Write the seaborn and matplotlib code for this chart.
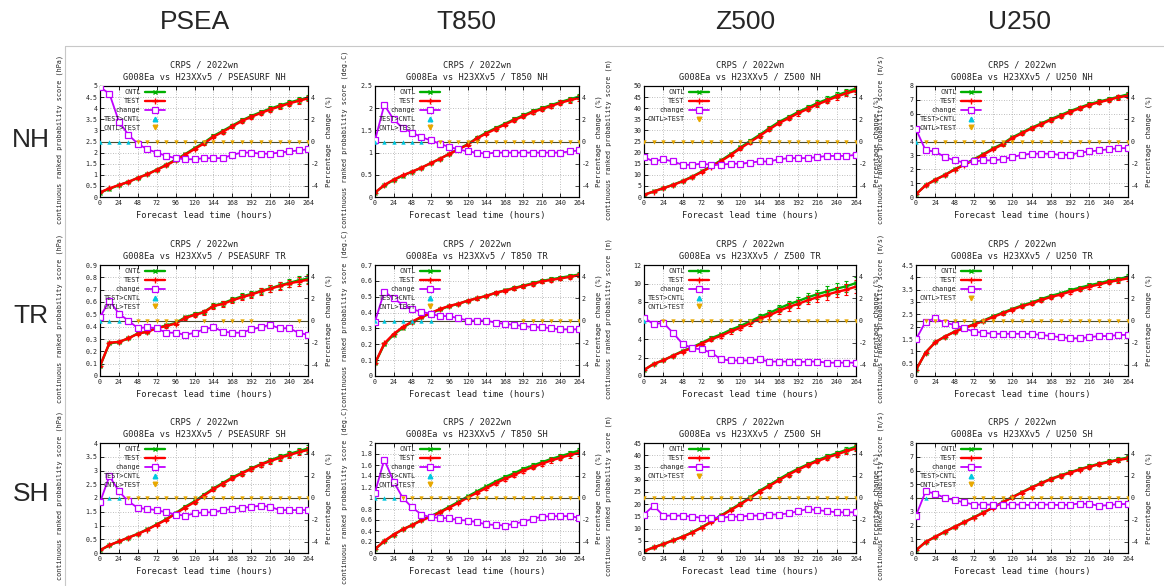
import matplotlib
matplotlib.use("Agg")
import matplotlib.pyplot as plt
import seaborn as sns
from matplotlib.lines import Line2D

# lead times (hours)
LEAD = [0, 12, 24, 36, 48, 60, 72, 84, 96, 108, 120, 132, 144, 156, 168, 180,
        192, 204, 216, 228, 240, 252, 264]

COL_HEADERS = ["PSEA", "T850", "Z500", "U250"]
ROW_HEADERS = ["NH", "TR", "SH"]

# ---- PSEASURF NH ----
psea_nh_cntl = [0.2, 0.37, 0.53, 0.68, 0.86, 1.03, 1.23, 1.45, 1.68, 1.93, 2.2, 2.45, 2.75, 2.98, 3.22, 3.45, 3.65, 3.82, 3.98, 4.12, 4.25, 4.37, 4.47]
psea_nh_test = [0.21, 0.39, 0.54, 0.68, 0.86, 1.02, 1.22, 1.43, 1.65, 1.90, 2.16, 2.41, 2.71, 2.94, 3.18, 3.42, 3.61, 3.78, 3.94, 4.08, 4.21, 4.33, 4.44]
psea_nh_err = [0.01, 0.02, 0.02, 0.03, 0.03, 0.04, 0.04, 0.05, 0.05, 0.06, 0.06, 0.07, 0.07, 0.08, 0.08, 0.09, 0.09, 0.1, 0.1, 0.11, 0.11, 0.12, 0.12]
psea_nh_chg = [4.9, 4.3, 1.8, 0.6, -0.2, -0.7, -1.0, -1.3, -1.5, -1.6, -1.6, -1.5, -1.5, -1.5, -1.2, -1.0, -1.0, -1.1, -1.1, -1.0, -0.9, -0.8, -0.7]
psea_nh_up = [0, 12, 24, 36]
psea_nh_down = [48, 60, 72, 84, 96, 108, 120, 132, 144, 156, 168, 180, 192, 204, 216, 228, 240, 252, 264]

# ---- T850 NH ----
t850_nh_cntl = [0.1, 0.26, 0.38, 0.48, 0.57, 0.66, 0.76, 0.86, 0.97, 1.08, 1.19, 1.33, 1.45, 1.55, 1.65, 1.75, 1.84, 1.93, 2.0, 2.07, 2.14, 2.2, 2.26]
t850_nh_test = [0.1, 0.27, 0.39, 0.49, 0.57, 0.66, 0.76, 0.86, 0.97, 1.07, 1.18, 1.32, 1.43, 1.53, 1.63, 1.73, 1.82, 1.91, 1.98, 2.05, 2.12, 2.18, 2.23]
t850_nh_err = [0.005, 0.01, 0.01, 0.015, 0.015, 0.02, 0.02, 0.025, 0.025, 0.03, 0.03, 0.035, 0.035, 0.04, 0.04, 0.045, 0.045, 0.05, 0.05, 0.055, 0.055, 0.06, 0.06]
t850_nh_chg = [0.1, 3.3, 2.0, 1.2, 0.8, 0.4, 0.1, -0.2, -0.5, -0.7, -0.9, -1.0, -1.1, -1.0, -1.0, -1.0, -1.0, -1.0, -1.0, -1.0, -1.0, -0.9, -0.8]
t850_nh_up = [0, 12, 24, 36, 48, 60]
t850_nh_down = [84, 96, 108, 120, 132, 144, 156, 168, 180, 192, 204, 216, 228, 240, 252, 264]

# ---- Z500 NH ----
z500_nh_cntl = [1.0, 2.5, 4.0, 5.5, 7.2, 9.2, 11.5, 14.0, 16.5, 19.3, 22.3, 25.2, 28.0, 31.0, 33.8, 36.0, 38.3, 40.3, 42.3, 44.0, 45.8, 47.3, 48.8]
z500_nh_test = [0.99, 2.46, 3.94, 5.40, 7.05, 9.01, 11.27, 13.71, 16.15, 18.91, 21.85, 24.72, 27.50, 30.44, 33.26, 35.46, 37.73, 39.70, 41.71, 43.43, 45.20, 46.69, 47.9]
z500_nh_err = [0.1, 0.15, 0.2, 0.25, 0.3, 0.35, 0.4, 0.5, 0.55, 0.6, 0.7, 0.75, 0.8, 0.9, 0.95, 1.0, 1.1, 1.15, 1.2, 1.3, 1.35, 1.4, 1.5]
z500_nh_chg = [-1.4, -1.8, -1.6, -1.8, -2.1, -2.1, -2.0, -2.1, -2.1, -2.0, -2.0, -1.9, -1.8, -1.8, -1.6, -1.5, -1.5, -1.5, -1.4, -1.3, -1.3, -1.3, -1.2]
z500_nh_up = []
z500_nh_down = [0, 12, 24, 36, 48, 60, 72, 84, 96, 108, 120, 132, 144, 156, 168, 180, 192, 204, 216, 228, 240, 252, 264]

# ---- U250 NH ----
u250_nh_cntl = [0.2, 0.85, 1.25, 1.6, 2.0, 2.35, 2.72, 3.1, 3.5, 3.85, 4.3, 4.65, 5.0, 5.3, 5.62, 5.9, 6.2, 6.45, 6.7, 6.88, 7.05, 7.22, 7.4]
u250_nh_test = [0.2, 0.84, 1.24, 1.58, 1.97, 2.31, 2.67, 3.05, 3.44, 3.79, 4.24, 4.59, 4.95, 5.24, 5.56, 5.83, 6.13, 6.39, 6.64, 6.82, 7.0, 7.18, 7.3]
u250_nh_err = [0.01, 0.02, 0.03, 0.04, 0.05, 0.06, 0.06, 0.07, 0.08, 0.09, 0.09, 0.1, 0.11, 0.11, 0.12, 0.13, 0.13, 0.14, 0.15, 0.15, 0.16, 0.16, 0.17]
u250_nh_chg = [1.1, -0.8, -0.9, -1.4, -1.7, -1.9, -1.8, -1.7, -1.7, -1.6, -1.4, -1.2, -1.1, -1.1, -1.1, -1.2, -1.2, -1.0, -0.9, -0.8, -0.7, -0.6, -0.6]
u250_nh_up = [0]
u250_nh_down = [12, 24, 36, 48, 60, 72, 84, 96, 108, 120, 132, 144, 156, 168, 180, 192, 204, 216, 228, 240, 252, 264]

# ---- PSEASURF TR ----
psea_tr_cntl = [0.08, 0.265, 0.275, 0.305, 0.345, 0.36, 0.39, 0.41, 0.43, 0.475, 0.5, 0.52, 0.57, 0.59, 0.62, 0.645, 0.665, 0.69, 0.71, 0.735, 0.755, 0.775, 0.79]
psea_tr_test = [0.08, 0.27, 0.277, 0.305, 0.343, 0.358, 0.387, 0.405, 0.425, 0.469, 0.495, 0.516, 0.567, 0.584, 0.613, 0.638, 0.66, 0.686, 0.707, 0.73, 0.75, 0.766, 0.78]
psea_tr_err = [0.003, 0.005, 0.006, 0.008, 0.009, 0.01, 0.011, 0.013, 0.014, 0.015, 0.017, 0.018, 0.02, 0.021, 0.022, 0.024, 0.025, 0.027, 0.028, 0.03, 0.031, 0.033, 0.035]
psea_tr_chg = [0.3, 1.8, 0.6, 0.0, -0.7, -0.6, -0.7, -1.1, -1.1, -1.3, -1.1, -0.8, -0.6, -1.0, -1.1, -1.1, -0.8, -0.6, -0.4, -0.7, -0.7, -1.1, -1.3]
psea_tr_up = [0, 12, 24]
psea_tr_down = [48, 60, 72, 84, 96, 132, 156, 168, 180, 192, 252]

# ---- T850 TR ----
t850_tr_cntl = [0.08, 0.2, 0.26, 0.305, 0.34, 0.37, 0.395, 0.42, 0.44, 0.455, 0.475, 0.49, 0.505, 0.525, 0.54, 0.555, 0.57, 0.585, 0.6, 0.61, 0.62, 0.63, 0.64]
t850_tr_test = [0.08, 0.205, 0.265, 0.309, 0.343, 0.373, 0.397, 0.422, 0.442, 0.456, 0.475, 0.49, 0.505, 0.524, 0.538, 0.553, 0.567, 0.581, 0.596, 0.606, 0.615, 0.625, 0.635]
t850_tr_err = [0.002, 0.003, 0.003, 0.004, 0.004, 0.005, 0.005, 0.006, 0.006, 0.007, 0.007, 0.008, 0.008, 0.009, 0.009, 0.01, 0.01, 0.011, 0.011, 0.012, 0.012, 0.013, 0.013]
t850_tr_chg = [-0.1, 2.6, 2.0, 1.4, 1.0, 0.8, 0.6, 0.4, 0.4, 0.2, 0.0, 0.0, 0.0, -0.2, -0.3, -0.4, -0.5, -0.6, -0.6, -0.7, -0.8, -0.8, -0.8]
t850_tr_up = [0, 12, 24, 36, 48, 60, 72]
t850_tr_down = [192, 204, 216, 228, 240, 252, 264]

# ---- Z500 TR ----
z500_tr_cntl = [0.65, 1.3, 1.7, 2.2, 2.7, 3.1, 3.6, 4.1, 4.5, 5.0, 5.4, 5.9, 6.4, 6.8, 7.3, 7.75, 8.1, 8.5, 8.85, 9.15, 9.45, 9.7, 10.05]
z500_tr_test = [0.65, 1.3, 1.7, 2.18, 2.64, 3.02, 3.51, 3.98, 4.34, 4.82, 5.21, 5.69, 6.18, 6.55, 7.03, 7.46, 7.8, 8.19, 8.52, 8.8, 9.09, 9.33, 9.67]
z500_tr_err = [0.03, 0.05, 0.07, 0.09, 0.11, 0.13, 0.16, 0.18, 0.2, 0.23, 0.25, 0.28, 0.31, 0.34, 0.37, 0.4, 0.43, 0.46, 0.5, 0.54, 0.58, 0.62, 0.66]
z500_tr_chg = [0.25, -0.33, -0.21, -1.1, -2.1, -2.5, -2.6, -2.9, -3.5, -3.6, -3.6, -3.6, -3.5, -3.7, -3.7, -3.7, -3.75, -3.7, -3.7, -3.8, -3.8, -3.8, -3.8]
z500_tr_up = [0]
z500_tr_down = [24, 36, 48, 60, 72, 84, 96, 108, 120, 132, 144, 156, 168, 180, 192, 204, 216, 228, 240, 252, 264]

# ---- U250 TR ----
u250_tr_cntl = [0.25, 0.95, 1.37, 1.6, 1.8, 1.95, 2.1, 2.25, 2.42, 2.57, 2.72, 2.86, 2.98, 3.12, 3.25, 3.35, 3.48, 3.58, 3.68, 3.76, 3.86, 3.93, 4.02]
u250_tr_test = [0.25, 0.95, 1.37, 1.6, 1.79, 1.94, 2.08, 2.23, 2.39, 2.54, 2.69, 2.83, 2.94, 3.08, 3.2, 3.3, 3.42, 3.52, 3.62, 3.71, 3.81, 3.88, 3.96]
u250_tr_err = [0.01, 0.02, 0.02, 0.03, 0.03, 0.03, 0.04, 0.04, 0.05, 0.05, 0.05, 0.06, 0.06, 0.07, 0.07, 0.07, 0.08, 0.08, 0.09, 0.09, 0.09, 0.1, 0.1]
u250_tr_chg = [-1.7, -0.1, 0.2, -0.2, -0.4, -0.7, -1.0, -1.1, -1.2, -1.2, -1.2, -1.2, -1.2, -1.3, -1.4, -1.5, -1.6, -1.6, -1.5, -1.4, -1.4, -1.3, -1.3]
u250_tr_up = []
u250_tr_down = [12, 24, 36, 48, 60, 72, 84, 96, 108, 120, 132, 144, 156, 168, 180, 192, 204, 216, 228, 240, 252, 264]

# ---- PSEASURF SH ----
psea_sh_cntl = [0.1, 0.28, 0.42, 0.56, 0.7, 0.86, 1.04, 1.23, 1.45, 1.68, 1.88, 2.12, 2.35, 2.55, 2.75, 2.92, 3.08, 3.23, 3.37, 3.5, 3.6, 3.7, 3.8]
psea_sh_test = [0.1, 0.29, 0.42, 0.56, 0.69, 0.85, 1.03, 1.21, 1.43, 1.65, 1.85, 2.09, 2.32, 2.52, 2.72, 2.89, 3.06, 3.21, 3.34, 3.46, 3.56, 3.66, 3.75]
psea_sh_err = [0.005, 0.01, 0.015, 0.02, 0.025, 0.03, 0.035, 0.04, 0.045, 0.05, 0.055, 0.06, 0.065, 0.07, 0.075, 0.08, 0.085, 0.09, 0.095, 0.1, 0.105, 0.11, 0.115]
psea_sh_chg = [-0.4, 2.0, 0.6, -0.3, -0.9, -1.0, -1.1, -1.3, -1.5, -1.6, -1.4, -1.3, -1.3, -1.1, -1.0, -0.9, -0.8, -0.7, -0.8, -1.1, -1.1, -1.1, -1.1]
psea_sh_up = [12, 24]
psea_sh_down = [36, 48, 60, 72, 84, 96, 108, 120, 132, 144, 156, 168, 180, 192, 204, 216, 228, 240, 252, 264]

# ---- T850 SH ----
t850_sh_cntl = [0.07, 0.21, 0.33, 0.43, 0.51, 0.6, 0.67, 0.75, 0.84, 0.93, 1.03, 1.12, 1.21, 1.3, 1.38, 1.45, 1.53, 1.59, 1.65, 1.71, 1.76, 1.81, 1.86]
t850_sh_test = [0.07, 0.22, 0.335, 0.43, 0.506, 0.591, 0.658, 0.737, 0.824, 0.911, 1.009, 1.095, 1.181, 1.268, 1.346, 1.416, 1.497, 1.56, 1.622, 1.682, 1.731, 1.78, 1.82]
t850_sh_err = [0.003, 0.006, 0.008, 0.01, 0.012, 0.014, 0.016, 0.018, 0.02, 0.022, 0.024, 0.026, 0.028, 0.03, 0.032, 0.034, 0.036, 0.038, 0.04, 0.042, 0.044, 0.046, 0.048]
t850_sh_chg = [0.5, 3.5, 1.5, 0.0, -0.85, -1.5, -1.75, -1.8, -1.85, -2.0, -2.05, -2.2, -2.4, -2.45, -2.5, -2.35, -2.15, -1.9, -1.7, -1.65, -1.65, -1.65, -1.8]
t850_sh_up = [0, 12, 24]
t850_sh_down = [36, 48, 60, 72, 84, 96, 108, 120, 132, 144, 156, 168, 180, 192, 204, 216, 228, 240, 252, 264]

# ---- Z500 SH ----
z500_sh_cntl = [0.8, 2.3, 3.7, 5.2, 6.7, 8.5, 10.6, 12.9, 15.4, 17.8, 20.2, 22.8, 25.5, 27.8, 30.2, 32.5, 34.5, 36.3, 38.0, 39.5, 40.8, 42.2, 43.5]
z500_sh_test = [0.79, 2.28, 3.64, 5.12, 6.59, 8.36, 10.41, 12.67, 15.12, 17.5, 19.86, 22.44, 25.09, 27.38, 29.75, 32.05, 34.09, 35.94, 37.58, 39.03, 40.27, 41.65, 42.8]
z500_sh_err = [0.05, 0.1, 0.15, 0.2, 0.25, 0.3, 0.35, 0.4, 0.45, 0.5, 0.55, 0.6, 0.65, 0.7, 0.75, 0.8, 0.85, 0.9, 0.95, 1.0, 1.05, 1.1, 1.2]
z500_sh_chg = [-1.5, -0.7, -1.6, -1.6, -1.6, -1.7, -1.8, -1.8, -1.8, -1.7, -1.7, -1.6, -1.6, -1.5, -1.5, -1.4, -1.2, -1.0, -1.1, -1.2, -1.3, -1.3, -1.3]
z500_sh_up = []
z500_sh_down = [0, 12, 24, 36, 48, 60, 72, 84, 96, 108, 120, 132, 144, 156, 168, 180, 192, 204, 216, 228, 240, 252, 264]

# ---- U250 SH ----
u250_sh_cntl = [0.2, 0.8, 1.18, 1.55, 1.9, 2.25, 2.6, 2.95, 3.32, 3.7, 4.07, 4.43, 4.78, 5.1, 5.4, 5.65, 5.88, 6.1, 6.3, 6.5, 6.65, 6.8, 6.95]
u250_sh_test = [0.2, 0.8, 1.18, 1.55, 1.9, 2.24, 2.58, 2.93, 3.3, 3.68, 4.05, 4.4, 4.75, 5.07, 5.37, 5.61, 5.84, 6.07, 6.27, 6.45, 6.61, 6.76, 6.88]
u250_sh_err = [0.01, 0.02, 0.03, 0.04, 0.05, 0.06, 0.06, 0.07, 0.08, 0.09, 0.09, 0.1, 0.11, 0.11, 0.12, 0.13, 0.13, 0.14, 0.15, 0.15, 0.16, 0.16, 0.17]
u250_sh_chg = [-1.6, 0.6, 0.4, 0.0, -0.2, -0.4, -0.6, -0.6, -0.6, -0.6, -0.6, -0.6, -0.65, -0.6, -0.6, -0.65, -0.6, -0.5, -0.55, -0.7, -0.65, -0.55, -0.55]
u250_sh_up = [12]
u250_sh_down = [72, 84, 96, 108, 120, 132, 144, 156, 168, 180, 192, 204, 216, 228, 240, 252, 264]

# panel table: (name, unit, ymax, ystep, cntl, test, err, chg, up, down)
PANELS = [
    [("PSEASURF NH", "hPa", 5, 0.5, psea_nh_cntl, psea_nh_test, psea_nh_err, psea_nh_chg, psea_nh_up, psea_nh_down),
     ("T850 NH", "deg.C", 2.5, 0.5, t850_nh_cntl, t850_nh_test, t850_nh_err, t850_nh_chg, t850_nh_up, t850_nh_down),
     ("Z500 NH", "m", 50, 5, z500_nh_cntl, z500_nh_test, z500_nh_err, z500_nh_chg, z500_nh_up, z500_nh_down),
     ("U250 NH", "m/s", 8, 1, u250_nh_cntl, u250_nh_test, u250_nh_err, u250_nh_chg, u250_nh_up, u250_nh_down)],
    [("PSEASURF TR", "hPa", 0.9, 0.1, psea_tr_cntl, psea_tr_test, psea_tr_err, psea_tr_chg, psea_tr_up, psea_tr_down),
     ("T850 TR", "deg.C", 0.7, 0.1, t850_tr_cntl, t850_tr_test, t850_tr_err, t850_tr_chg, t850_tr_up, t850_tr_down),
     ("Z500 TR", "m", 12, 2, z500_tr_cntl, z500_tr_test, z500_tr_err, z500_tr_chg, z500_tr_up, z500_tr_down),
     ("U250 TR", "m/s", 4.5, 0.5, u250_tr_cntl, u250_tr_test, u250_tr_err, u250_tr_chg, u250_tr_up, u250_tr_down)],
    [("PSEASURF SH", "hPa", 4, 0.5, psea_sh_cntl, psea_sh_test, psea_sh_err, psea_sh_chg, psea_sh_up, psea_sh_down),
     ("T850 SH", "deg.C", 2, 0.2, t850_sh_cntl, t850_sh_test, t850_sh_err, t850_sh_chg, t850_sh_up, t850_sh_down),
     ("Z500 SH", "m", 45, 5, z500_sh_cntl, z500_sh_test, z500_sh_err, z500_sh_chg, z500_sh_up, z500_sh_down),
     ("U250 SH", "m/s", 8, 1, u250_sh_cntl, u250_sh_test, u250_sh_err, u250_sh_chg, u250_sh_up, u250_sh_down)],
]

# colours (gnuplot-like)
GREEN = "#00b000"
RED = "#ff0000"
PURPLE = "#c000ff"
CYAN = "#00c8e0"
ORANGE = "#e8a800"

sns.set_theme(style="white")
MONO = "DejaVu Sans Mono"
plt.rcParams.update({
    "font.family": MONO,
    "axes.edgecolor": "black",
    "axes.linewidth": 0.8,
    "xtick.direction": "in",
    "ytick.direction": "in",
    "xtick.major.size": 3,
    "ytick.major.size": 3,
    "xtick.major.width": 0.6,
    "ytick.major.width": 0.6,
})

W, H = 1164, 586
fig = plt.figure(figsize=(W / 100, H / 100), dpi=100)

# axes boxes in pixels
COL_L = [100, 375, 644, 916]
COL_R = [308, 579, 856, 1128]
ROW_T = [86, 265, 443]
ROW_B = [197, 376, 553]
YLAB_OFF = [37, 27, 32, 32]

def fmt_g(v):
    return f"{v:g}"

for r in range(3):
    for c in range(4):
        name, unit, ymax, ystep, cntl, test, err, chg, up, down = PANELS[r][c]
        l, rr, t, b = COL_L[c], COL_R[c], ROW_T[r], ROW_B[r]
        ax = fig.add_axes([l / W, 1 - b / H, (rr - l) / W, (b - t) / H])
        ax2 = ax.twinx()

        ax.errorbar(LEAD, cntl, yerr=err, fmt="none", ecolor=GREEN, elinewidth=0.8, capsize=1.6, capthick=0.8)
        sns.lineplot(x=LEAD, y=cntl, ax=ax, color=GREEN, linewidth=1.7, marker="x", markersize=3.5,
                     markeredgecolor=GREEN, markeredgewidth=1.0)
        ax.errorbar(LEAD, test, yerr=err, fmt="none", ecolor=RED, elinewidth=0.8, capsize=1.6, capthick=0.8)
        sns.lineplot(x=LEAD, y=test, ax=ax, color=RED, linewidth=1.7, marker="+", markersize=4.5,
                     markeredgecolor=RED, markeredgewidth=1.0)

        ax.set_xlim(0, 264)
        ax.set_ylim(0, ymax)
        nt = int(round(ymax / ystep))
        yt = [ystep * i for i in range(nt + 1)]
        ax.set_yticks(yt)
        ax.set_yticklabels([fmt_g(round(v, 3)) for v in yt])
        ax.set_xticks(LEAD[::2])
        ax.set_xticklabels([str(v) for v in LEAD[::2]])
        ax.tick_params(axis="both", labelsize=4.8, pad=2, colors="black", labelcolor="#222222")
        ax.tick_params(axis="x", top=True, bottom=True)
        ax.tick_params(axis="y", left=True, right=False)
        ax.grid(True, color="#a8a8a8", linestyle=(0, (1, 2)), linewidth=0.6)
        ax.set_xlabel("Forecast lead time (hours)", fontsize=6.2, labelpad=4, color="#222222")
        ax.set_ylabel(f"continuous ranked probability score ({unit})", fontsize=4.9, color="#222222")
        ax.yaxis.set_label_coords(-YLAB_OFF[c] / (rr - l), 0.52)
        ax.set_title(f"CRPS / 2022wn\nG008Ea vs H23XXv5 / {name}", fontsize=6.2, pad=5,
                     linespacing=1.35, color="#222222")

        # percentage change on right axis
        ax2.axhline(0, color="#4a4a30", linewidth=0.8, zorder=1)
        sns.lineplot(x=LEAD, y=chg, ax=ax2, color=PURPLE, linewidth=1.3, marker="s", markersize=3.8,
                     markerfacecolor="white", markeredgecolor=PURPLE, markeredgewidth=0.9, zorder=3)
        if up:
            sns.scatterplot(x=up, y=[0] * len(up), ax=ax2, color=CYAN, marker="^", s=10, linewidth=0, zorder=4)
        if down:
            sns.scatterplot(x=down, y=[0] * len(down), ax=ax2, color=ORANGE, marker="v", s=10, linewidth=0, zorder=4)
        ax2.set_ylim(-5, 5)
        ax2.set_yticks([-4, -2, 0, 2, 4])
        ax2.set_yticklabels(["-4", "-2", "0", "2", "4"])
        ax2.tick_params(axis="y", labelsize=4.8, pad=2, direction="in", labelcolor="#222222")
        ax2.set_ylabel("Percentage change (%)", fontsize=5.2, color="#222222")
        ax2.yaxis.set_label_coords(1 + 17 / (rr - l), 0.5)
        for sp in ax2.spines.values():
            sp.set_linewidth(0.8)

        # gnuplot-style key
        handles = [
            Line2D([], [], color=GREEN, lw=1.7, marker="x", ms=3.5, mew=1.0),
            Line2D([], [], color=RED, lw=1.7, marker="+", ms=4.5, mew=1.0),
            Line2D([], [], color=PURPLE, lw=1.3, marker="s", ms=3.8, mfc="white", mew=0.9),
        ]
        labels = ["CNTL", "TEST", "change"]
        if up:
            handles.append(Line2D([], [], color=CYAN, lw=0, marker="^", ms=3.3))
            labels.append("TEST>CNTL")
        if down:
            handles.append(Line2D([], [], color=ORANGE, lw=0, marker="v", ms=3.3))
            labels.append("CNTL>TEST")
        leg = ax2.legend(handles, labels, loc="upper left", bbox_to_anchor=(0.0, 1.0), frameon=False,
                         markerfirst=False, fontsize=4.9, handlelength=2.9, handletextpad=0.7,
                         labelspacing=0.42, borderaxespad=0.3, borderpad=0.2)
        for txt in leg.get_texts():
            txt.set_ha("right")
            txt.set_color("#222222")
        leg.set_zorder(10)

# column and row headers
HDR_X = [195, 466, 745, 1020]
for x, s in zip(HDR_X, COL_HEADERS):
    fig.text(x / W, 1 - 22 / H, s, ha="center", va="center", fontsize=19, family="Liberation Sans")
ROW_Y = [140, 316, 494]
for y, s in zip(ROW_Y, ROW_HEADERS):
    fig.text(31 / W, 1 - y / H, s, ha="center", va="center", fontsize=19, family="Liberation Sans")

# panel image borders
fig.add_artist(Line2D([65 / W, 1.0], [1 - 46 / H, 1 - 46 / H], color="#c8c8c8", lw=0.8))
fig.add_artist(Line2D([65 / W, 65 / W], [0, 1 - 46 / H], color="#c8c8c8", lw=0.8))

fig.savefig("out.png", dpi=100)
